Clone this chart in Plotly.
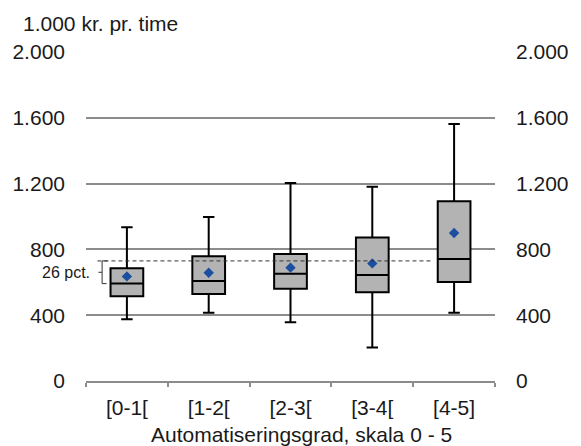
import plotly.graph_objects as go

# ---- data ----
categories = ["[0-1[", "[1-2[", "[2-3[", "[3-4[", "[4-5]"]
lower_whisker = [375, 415, 357, 203, 415]
q1_values = [515, 529, 561, 539, 602]
median_values = [592, 608, 652, 644, 742]
q3_values = [685, 758, 772, 873, 1092]
upper_whisker = [934, 997, 1204, 1181, 1562]
mean_values = [636, 658, 689, 715, 900]
reference_level = 730
gap_label = "26 pct."
y_tickvals = [0, 400, 800, 1200, 1600, 2000]
y_ticktext = ["0", "400", "800", "1.200", "1.600", "2.000"]
y_unit_label = "1.000 kr. pr. time"
x_title = "Automatiseringsgrad, skala 0 - 5"

FONT = "Liberation Sans, Arial, sans-serif"
TXT = "#1a1a1a"
GRID = "#8c8c8c"
FS = 21

fig = go.Figure()

fig.add_trace(go.Box(
    x=categories,
    q1=q1_values,
    median=median_values,
    q3=q3_values,
    lowerfence=lower_whisker,
    upperfence=upper_whisker,
    fillcolor="#b3b3b3",
    line=dict(color="black", width=2),
    width=0.40,
    whiskerwidth=0.35,
    boxpoints=False,
    showlegend=False,
    hoverinfo="skip",
))

fig.add_trace(go.Scatter(
    x=categories,
    y=mean_values,
    mode="markers",
    marker=dict(symbol="diamond", size=8, color="#1c4fa0"),
    showlegend=False,
    hoverinfo="skip",
))

# invisible trace to show right axis
fig.add_trace(go.Scatter(
    x=[categories[0]], y=[0], yaxis="y2", mode="markers",
    marker=dict(opacity=0), showlegend=False, hoverinfo="skip",
))

# dashed reference line
fig.add_shape(type="line", xref="x", yref="y",
              x0=-0.36, x1=3.73, y0=reference_level, y1=reference_level,
              line=dict(color="#333333", width=1, dash="4px,3px"))

# bracket
bx = -0.303
fig.add_shape(type="line", xref="x", yref="y", x0=bx, x1=bx,
              y0=median_values[0], y1=reference_level,
              line=dict(color="#333333", width=1))
fig.add_shape(type="line", xref="x", yref="y", x0=bx, x1=bx + 0.065,
              y0=reference_level, y1=reference_level,
              line=dict(color="#333333", width=1))
fig.add_shape(type="line", xref="x", yref="y", x0=bx, x1=bx + 0.055,
              y0=median_values[0], y1=median_values[0],
              line=dict(color="#333333", width=1))
mid = (median_values[0] + reference_level) / 2
fig.add_shape(type="line", xref="x", yref="y", x0=bx - 0.045, x1=bx,
              y0=mid, y1=mid,
              line=dict(color="#333333", width=1))
fig.add_annotation(xref="x", yref="y", x=bx - 0.045, y=mid,
                   text=gap_label, showarrow=False, xanchor="right",
                   yanchor="middle", xshift=-6,
                   font=dict(family=FONT, size=16, color=TXT))

fig.add_annotation(xref="paper", yref="paper", x=-0.159, y=1.088,
                   text=y_unit_label, showarrow=False, xanchor="left",
                   yanchor="middle", font=dict(family=FONT, size=FS, color=TXT))
fig.add_annotation(xref="paper", yref="paper", x=0.526, y=-0.164,
                   text=x_title, showarrow=False, xanchor="center",
                   yanchor="middle", font=dict(family=FONT, size=FS, color=TXT))

yax = dict(range=[0, 2000], tickvals=y_tickvals, ticktext=y_ticktext,
           showgrid=True, gridcolor=GRID, gridwidth=1.5, zeroline=False,
           showline=False, ticks="", ticklabelstandoff=20,
           tickfont=dict(family=FONT, size=FS, color=TXT), fixedrange=True)

fig.update_layout(
    width=581, height=446,
    margin=dict(l=84, r=74, t=52, b=65),
    paper_bgcolor="white", plot_bgcolor="white",
    font=dict(family=FONT, color=TXT),
    xaxis=dict(type="category", categoryorder="array", categoryarray=categories,
               range=[-0.5, 4.5], tickson="boundaries", ticks="outside",
               ticklen=4, tickcolor=GRID, tickwidth=1.5, ticklabelstandoff=7,
               showline=True, linecolor=GRID, linewidth=1.5,
               showgrid=False, tickfont=dict(family=FONT, size=FS, color=TXT)),
    yaxis=yax,
    yaxis2=dict(yax, overlaying="y", side="right", showgrid=False),
)

fig.write_html("out.html", config={"displayModeBar": False},
               post_script="document.body.style.margin='0';")
